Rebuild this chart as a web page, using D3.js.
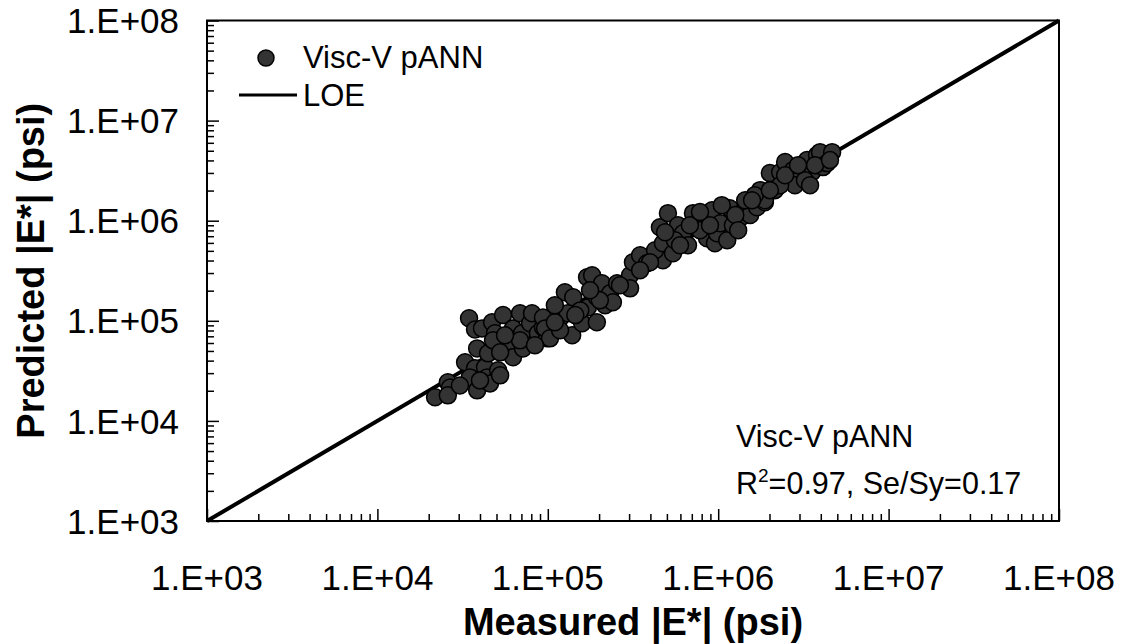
<!DOCTYPE html>
<html>
<head>
<meta charset="utf-8">
<script src="https://cdn.jsdelivr.net/npm/d3@7"></script>
<style>
  body { margin: 0; background: #fff; }
  svg { display: block; font-family: "Liberation Sans", Arial, sans-serif; }
</style>
</head>
<body>
<div id="chart"></div>
<script>
// measured |E*| (psi)
const measured = [
  2.18e4, 2.59e4, 2.67e4, 2.59e4, 3.27e4, 3.45e4, 3.74e4, 4.11e4, 3.85e4, 3.74e4,
  3.49e4, 3.85e4, 4.28e4, 4.46e4, 4.40e4, 4.58e4, 4.71e4, 4.90e4, 4.77e4, 5.11e4,
  5.25e4, 5.46e4, 5.76e4, 6.25e4, 6.25e4, 6.87e4, 7.06e4, 7.15e4, 7.87e4, 8.08e4,
  8.75e4, 9.37e4, 9.89e4, 9.37e4, 9.64e4, 1.03e5, 1.18e5, 1.26e5, 1.31e5, 1.39e5,
  1.41e5, 1.59e5, 1.70e5, 1.72e5, 1.82e5, 1.94e5, 1.94e5, 2.08e5, 2.17e5, 2.32e5,
  2.41e5, 2.55e5, 3.04e5, 3.04e5, 3.16e5, 3.48e5, 3.82e5, 4.37e5, 4.74e5, 4.26e5,
  4.55e5, 4.74e5, 5.07e5, 5.43e5, 5.81e5, 6.21e5, 6.65e5, 7.11e5, 8.14e5, 8.60e5,
  9.20e5, 9.57e5, 9.84e5, 1.03e6, 1.13e6, 1.17e6, 1.22e6, 1.34e6, 1.44e6, 1.54e6,
  1.69e6, 1.88e6, 1.76e6, 1.88e6, 2.01e6, 2.15e6, 2.31e6, 2.47e6, 2.64e6, 2.75e6,
  3.02e6, 3.32e6, 3.55e6, 3.80e6, 3.96e6, 4.12e6, 4.35e6, 4.66e6,
  1.64e6, 1.44e6, 1.26e6, 2.82e6, 3.23e6, 3.70e6, 2.31e6, 7.82e5, 6.82e5, 8.95e5,
  5.57e5, 3.98e5, 3.48e5, 2.65e5, 2.02e5, 1.55e5, 1.18e5, 1.10e5, 6.87e4, 5.61e4,
  4.00e4,
  7.82e5, 1.05e6, 1.31e6, 1.58e6, 2.01e6, 2.47e6, 2.94e6, 4.53e6, 3.46e6, 5.97e5,
  4.88e5, 1.45e5, 1.10e5, 1.77e5, 8.41e4, 5.25e4, 3.05e4
];
// predicted |E*| (psi)
const predicted = [
  1.72e4, 2.43e4, 2.16e4, 1.80e4, 3.85e4, 1.06e5, 8.20e4, 8.40e4, 5.30e4, 3.35e4,
  2.72e4, 2.02e4, 3.43e4, 4.73e4, 2.72e4, 2.37e4, 9.66e4, 7.50e4, 6.38e4, 3.20e4,
  2.85e4, 1.14e5, 5.30e4, 4.32e4, 8.40e4, 1.19e5, 7.50e4, 5.30e4, 9.44e4, 1.19e5,
  7.50e4, 8.60e4, 6.68e4, 1.08e5, 8.40e4, 6.68e4, 1.06e5, 1.93e5, 1.19e5, 7.16e4,
  1.72e5, 9.44e4, 2.72e5, 1.36e5, 2.85e5, 9.66e4, 1.72e5, 2.37e5, 1.43e5, 1.88e5,
  1.53e5, 2.37e5, 2.85e5, 2.11e5, 3.85e5, 4.52e5, 3.76e5, 4.32e5, 4.03e5, 5.07e5,
  8.60e5, 5.96e5, 1.19e6, 4.73e5, 9.00e5, 7.50e5, 5.69e5, 1.19e6, 9.66e5, 6.68e5,
  1.27e6, 5.96e5, 7.50e5, 9.44e5, 6.38e5, 1.33e6, 9.00e5, 1.06e6, 1.33e6, 1.14e6,
  1.36e6, 1.53e6, 2.02e6, 1.60e6, 2.99e6, 2.02e6, 3.05e6, 3.85e6, 2.54e6, 3.20e6,
  2.85e6, 4.03e6, 3.05e6, 4.52e6, 4.84e6, 3.43e6, 3.76e6, 4.84e6,
  1.80e6, 1.60e6, 1.14e6, 2.26e6, 2.54e6, 3.59e6, 2.26e6, 8.04e5, 9.00e5, 9.00e5,
  6.38e5, 3.85e5, 3.20e5, 2.26e5, 1.60e5, 1.27e5, 8.04e4, 9.66e4, 6.38e4, 7.16e4,
  2.54e4,
  1.22e6, 1.43e6, 8.04e5, 1.60e6, 2.02e6, 2.85e6, 3.59e6, 4.03e6, 2.26e6, 5.69e5,
  7.67e5, 1.14e5, 1.43e5, 2.02e5, 5.69e4, 4.84e4, 2.26e4
];
const majorTicks = [1e3, 1e4, 1e5, 1e6, 1e7, 1e8];
const tickLabels = ["1.E+03", "1.E+04", "1.E+05", "1.E+06", "1.E+07", "1.E+08"];
const minorMultipliers = [2, 3, 4, 5, 6, 7, 8, 9];
const loe = [1e3, 1e8];

const W = 1127, H = 644;
const margin = { top: 20.5, right: 68, bottom: 123, left: 207 };
const width = W - margin.left - margin.right;
const height = H - margin.top - margin.bottom;

const minorTicks = [];
majorTicks.slice(0, -1).forEach(t => minorMultipliers.forEach(m => minorTicks.push(t * m)));

const svg = d3.select("#chart").append("svg")
  .attr("width", W)
  .attr("height", H);

const g = svg.append("g")
  .attr("transform", `translate(${margin.left},${margin.top})`);

const x = d3.scaleLog().domain([1e3, 1e8]).range([0, width]);
const y = d3.scaleLog().domain([1e3, 1e8]).range([height, 0]);

// ticks (inward, left and bottom only)
const tickAxis = (axis, size, vals) => axis.tickValues(vals).tickSize(size).tickFormat("");
g.append("g").attr("transform", `translate(0,${height})`)
  .call(tickAxis(d3.axisBottom(x), -7, minorTicks));
g.append("g").attr("transform", `translate(0,${height})`)
  .call(tickAxis(d3.axisBottom(x), -12, majorTicks));
g.append("g").call(tickAxis(d3.axisLeft(y), -7, minorTicks));
g.append("g").call(tickAxis(d3.axisLeft(y), -12, majorTicks));
g.selectAll(".domain").remove();
g.selectAll(".tick line").attr("stroke", "#000").attr("stroke-width", 1.5);

// frame
g.append("rect")
  .attr("width", width).attr("height", height)
  .attr("fill", "none").attr("stroke", "#000").attr("stroke-width", 2);

// tick labels
g.selectAll(".xlab").data(majorTicks).enter().append("text")
  .attr("x", d => x(d)).attr("y", height + 69)
  .attr("text-anchor", "middle").style("font-size", "35px")
  .text((d, i) => tickLabels[i]);
g.selectAll(".ylab").data(majorTicks).enter().append("text")
  .attr("x", -28).attr("y", d => y(d)).attr("dy", "0.36em")
  .attr("text-anchor", "end").style("font-size", "35px")
  .text((d, i) => tickLabels[i]);

// line of equality
g.append("line")
  .attr("x1", x(loe[0])).attr("y1", y(loe[0]))
  .attr("x2", x(loe[1])).attr("y2", y(loe[1]))
  .attr("stroke", "#000").attr("stroke-width", 4);

// points
g.selectAll("circle.pt").data(measured).enter().append("circle")
  .attr("class", "pt")
  .attr("cx", d => x(d))
  .attr("cy", (d, i) => y(predicted[i]))
  .attr("r", 8.5)
  .attr("fill", "#333333").attr("stroke", "#000").attr("stroke-width", 1.5);

// legend
svg.append("circle").attr("cx", 266).attr("cy", 58).attr("r", 8)
  .attr("fill", "#333333").attr("stroke", "#000").attr("stroke-width", 1.5);
svg.append("text").attr("x", 303).attr("y", 68).style("font-size", "31px").text("Visc-V pANN");
svg.append("line").attr("x1", 239).attr("x2", 297).attr("y1", 95).attr("y2", 95)
  .attr("stroke", "#000").attr("stroke-width", 3);
svg.append("text").attr("x", 303).attr("y", 106).style("font-size", "31px").text("LOE");

// annotation
svg.append("text").attr("x", 736).attr("y", 447).style("font-size", "30.5px").text("Visc-V pANN");
const r2 = svg.append("text").attr("x", 736).attr("y", 494).style("font-size", "30.5px");
r2.append("tspan").text("R");
r2.append("tspan").attr("dy", -12).style("font-size", "19px").text("2");
r2.append("tspan").attr("dy", 12).text("=0.97, Se/Sy=0.17");

// axis titles
svg.append("text")
  .attr("x", margin.left + width / 2).attr("y", 635)
  .attr("text-anchor", "middle")
  .style("font-size", "38px").style("font-weight", "bold")
  .text("Measured |E*| (psi)");
svg.append("text")
  .attr("transform", `translate(44,${margin.top + height / 2}) rotate(-90)`)
  .attr("text-anchor", "middle")
  .style("font-size", "38px").style("font-weight", "bold")
  .text("Predicted |E*| (psi)");
</script>
</body>
</html>
